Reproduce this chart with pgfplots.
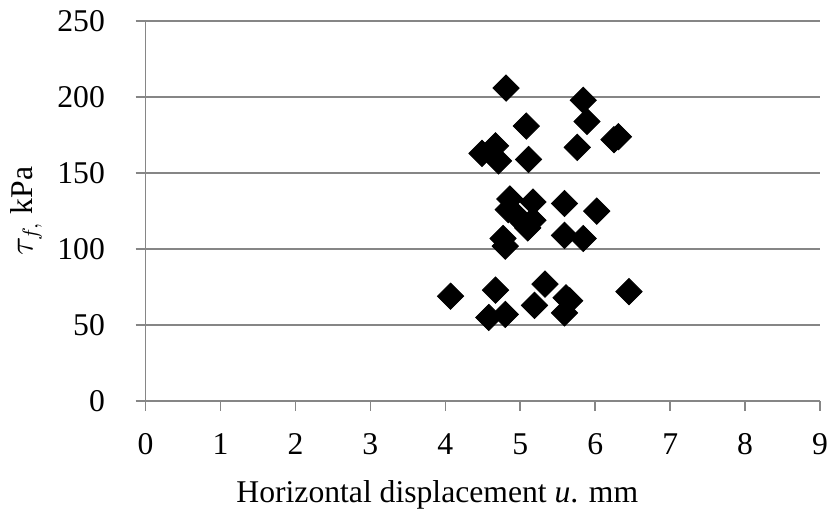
\documentclass[border=0pt]{standalone}
\usepackage{pgfplots}
\pgfplotsset{compat=1.18}
\usepackage{fontspec}
\setmainfont{Liberation Serif}

\definecolor{gridgray}{RGB}{134,134,134}

\begin{document}
\fontsize{16}{19}\selectfont
\begin{tikzpicture}
\begin{axis}[
    scale only axis,
    width=341pt, height=192pt,
    xmin=0, xmax=9, ymin=0, ymax=250,
    xtick={0,...,9},
    ytick={0,50,...,250},
    axis x line*=bottom,
    axis y line*=left,
    axis line style={gridgray, line width=0.8pt},
    ymajorgrids,
    major grid style={gridgray, line width=0.8pt},
    tick style={gridgray, line width=0.8pt},
    tick align=outside,
    major tick length=5pt,
    separate axis lines,
    x axis line style={-},
    y axis line style={-},
    /pgf/number format/assume math mode=true,
    ticklabel style={font=\fontsize{16}{19}\selectfont},
    yticklabel style={xshift=-10pt},
    xticklabel style={yshift=-6pt, inner xsep=0pt},
    xlabel={Horizontal displacement \textit{u}. mm},
    ylabel={$\tau_{f,}$ kPa},
    label style={font=\fontsize{16}{19}\selectfont},
    xlabel style={xshift=-23pt, yshift=-2pt},
    ylabel style={yshift=-3pt},
    clip=false,
]
\addplot[only marks, mark=square*, mark size=4.7pt,
         mark options={rotate=45, fill=black, draw=black}] coordinates {
    (4.81,206) (5.84,198) (5.89,184) (6.25,172) (6.31,174)
    (5.76,167) (5.08,181) (5.11,159)
    (4.49,163) (4.67,168) (4.71,158)
    (4.86,133) (5.17,131) (5.59,130) (6.02,125)
    (4.84,126) (4.95,122) (5.05,117) (5.17,119) (5.10,114)
    (5.59,109) (5.84,107) (4.77,107) (4.80,102)
    (4.07,69) (4.67,73) (4.58,55) (4.80,57) (5.33,77)
    (5.19,63) (5.61,68) (5.59,58) (5.66,66) (6.45,72)
};
\end{axis}
\end{tikzpicture}
\end{document}
